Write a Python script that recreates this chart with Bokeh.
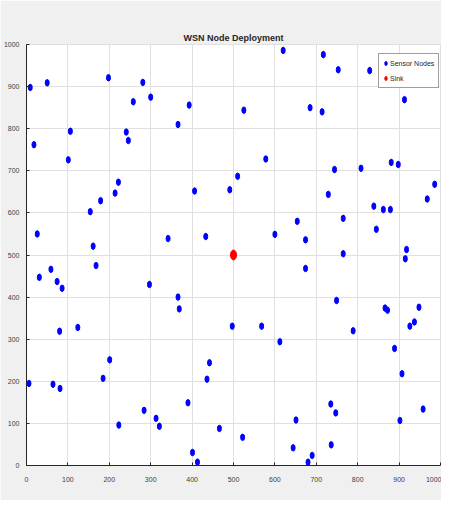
from bokeh.plotting import figure
from bokeh.models import Range1d, SingleIntervalTicker, ColumnDataSource, Legend, LegendItem
from bokeh.embed import file_html
from bokeh.resources import INLINE

title_text = "WSN Node Deployment"
series_names = ["Sensor Nodes", "Sink"]

node_x = [9, 18, 50, 106, 101, 198, 281, 300, 258, 241, 246, 393, 366, 222, 214, 179, 154, 406, 26, 342,
          433, 620, 717, 753, 829, 872, 913, 525, 685, 714, 578, 744, 808, 881, 898, 510, 491, 986, 729, 968,
          839, 862, 879, 654, 765, 600, 674, 845, 918, 765, 915, 674, 749, 866, 872, 948, 497, 568, 926, 937,
          789, 612, 889, 907, 735, 747, 958, 651, 902, 466, 522, 644, 736, 690, 680, 161, 168, 31, 59, 74,
          86, 297, 366, 369, 80, 124, 201, 185, 6, 64, 81, 442, 436, 390, 284, 313, 321, 223, 401, 413]
node_y = [898, 762, 909, 794, 726, 921, 910, 875, 864, 792, 772, 856, 810, 673, 647, 629, 603, 652, 550, 539,
          544, 986, 976, 940, 938, 940, 869, 844, 850, 840, 728, 703, 706, 720, 715, 687, 655, 668, 644, 633,
          616, 608, 608, 580, 587, 549, 536, 561, 513, 503, 491, 468, 392, 374, 369, 376, 331, 331, 331, 341,
          320, 294, 278, 218, 146, 125, 134, 108, 107, 88, 67, 42, 49, 24, 8, 521, 475, 447, 466, 437,
          421, 430, 400, 372, 319, 328, 251, 207, 195, 193, 183, 244, 205, 149, 131, 112, 93, 96, 31, 8]
sink_x = [500]
sink_y = [500]

tick_interval = 100
axis_min, axis_max = 0, 1000

FONT = "Liberation Sans"

p = figure(frame_width=414, frame_height=421, output_backend="svg", toolbar_location=None,
           x_range=Range1d(axis_min, axis_max), y_range=Range1d(axis_min, axis_max),
           min_border_left=19, min_border_right=1, min_border_top=44, min_border_bottom=35,
           background_fill_color="white", border_fill_color="#f0f0f0",
           title=title_text)

p.title.text_font = FONT
p.title.text_font_size = "9px"
p.title.text_font_style = "bold"
p.title.text_color = "#262626"
p.title.align = "center"
p.title.standoff = 4

for ax in (p.xaxis[0], p.yaxis[0]):
    ax.ticker = SingleIntervalTicker(interval=tick_interval)
    ax.major_tick_in = 3
    ax.major_tick_out = 0
    ax.minor_tick_line_color = None
    ax.axis_line_color = "#262626"
    ax.major_tick_line_color = "#262626"
    ax.major_label_text_font = FONT
    ax.major_label_text_font_size = "7px"
    ax.major_label_text_color = "#404040"
    ax.major_label_standoff = 3

p.xaxis[0].major_label_standoff = 7

p.grid.grid_line_color = "#e0e0e0"
p.outline_line_color = "#e0e0e0"

src_nodes = ColumnDataSource(dict(x=node_x, y=node_y))
src_sink = ColumnDataSource(dict(x=sink_x, y=sink_y))

r1 = p.ellipse(x="x", y="y", width=4, height=6.5, width_units="screen", height_units="screen",
               source=src_nodes, fill_color="blue", line_color="blue")
r2 = p.ellipse(x="x", y="y", width=6, height=10, width_units="screen", height_units="screen",
               source=src_sink, fill_color="red", line_color="red")

legend = Legend(items=[LegendItem(label=series_names[0], renderers=[r1]),
                       LegendItem(label=series_names[1], renderers=[r2])],
                location=(352, 377))
legend.label_text_font = FONT
legend.label_text_font_size = "7px"
legend.label_text_color = "#262626"
legend.glyph_width = 5
legend.glyph_height = 10
legend.label_height = 10
legend.label_standoff = 2
legend.spacing = 5
legend.padding = 4
legend.margin = 0
legend.border_line_color = "#404040"
legend.background_fill_color = "white"
legend.background_fill_alpha = 1
p.add_layout(legend)

open("out.html", "w").write(file_html(p, INLINE))
